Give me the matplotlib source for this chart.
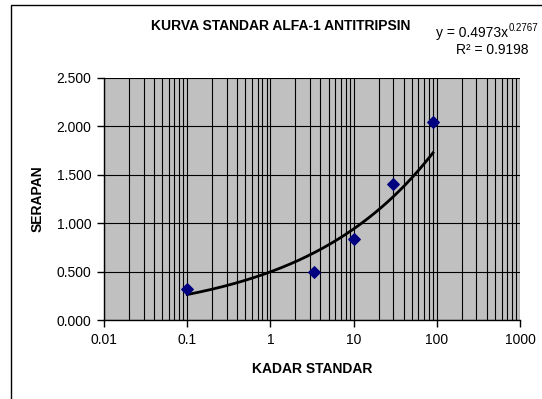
import numpy as np
import matplotlib
matplotlib.use("Agg")
import matplotlib.pyplot as plt
from matplotlib.patches import Rectangle
from matplotlib.ticker import LogLocator, FixedLocator, NullFormatter

plt.rcParams['font.family'] = ['Liberation Sans', 'DejaVu Sans']
plt.rcParams['mathtext.fontset'] = 'custom'
plt.rcParams['mathtext.rm'] = 'Liberation Sans'
plt.rcParams['mathtext.it'] = 'Liberation Sans'

# Standard concentrations and measured absorbance
kadar = [0.1, 3.3, 10, 30, 90]
serapan = [0.32, 0.50, 0.84, 1.40, 2.05]

# Power trendline y = a * x^b
coef_a = 0.4973
coef_b = 0.2767
r_squared = 0.9198

x_ticks = [0.01, 0.1, 1, 10, 100, 1000]
x_ticklabels = ["0.01", "0.1", "1", "10", "100", "1000"]
y_ticks = [0.0, 0.5, 1.0, 1.5, 2.0, 2.5]
y_ticklabels = ["0.000", "0.500", "1.000", "1.500", "2.000", "2.500"]

W, H = 542, 399
fig = plt.figure(figsize=(W / 100, H / 100), dpi=100)
fig.patch.set_facecolor("white")

# chart-area frame
fig.patches.append(Rectangle((11 / W, -0.05), 1.2, (H - 5) / H + 0.05,
                             transform=fig.transFigure, fill=False,
                             edgecolor="black", linewidth=1.0))

left, right, top, bottom = 104, 520, 78, 320
ax = fig.add_axes([left / W, 1 - bottom / H, (right - left) / W, (bottom - top) / H])
ax.set_facecolor("#C0C0C0")
ax.set_xscale("log")
ax.set_xlim(x_ticks[0], x_ticks[-1])
ax.set_ylim(y_ticks[0], y_ticks[-1])

ax.xaxis.set_major_locator(FixedLocator(x_ticks))
ax.set_xticklabels(x_ticklabels)
ax.xaxis.set_minor_locator(LogLocator(base=10, subs=np.arange(2, 10)))
ax.xaxis.set_minor_formatter(NullFormatter())
ax.set_yticks(y_ticks)
ax.set_yticklabels(y_ticklabels)

ax.grid(True, which="major", axis="both", color="black", linewidth=0.8)
ax.grid(True, which="minor", axis="x", color="black", linewidth=0.8)
ax.set_axisbelow(True)

for s in ("top", "right"):
    ax.spines[s].set_visible(False)
for s in ("left", "bottom"):
    ax.spines[s].set_linewidth(1.0)
ax.tick_params(which="major", direction="out", length=5, width=1.0,
               labelsize=10, pad=4)
ax.tick_params(which="minor", length=0)

# trendline
xs = np.logspace(np.log10(min(kadar)), np.log10(max(kadar)), 200)
ax.plot(xs, coef_a * xs ** coef_b, color="black", linewidth=2.0, zorder=3)

# data points
ax.scatter(kadar, serapan, marker="D", s=34, color="#000080", zorder=4,
           clip_on=False)

ax.set_xlabel("KADAR STANDAR", fontsize=10, fontweight="bold", labelpad=11)
ax.set_ylabel("SERAPAN", fontsize=10, fontweight="bold", labelpad=9)

fig.text(281 / W, 1 - 26 / H, "KURVA STANDAR ALFA-1 ANTITRIPSIN",
         ha="center", va="center", fontsize=10, fontweight="bold")

# trendline equation: main part plus a small raised exponent
eq = fig.text(436 / W, 1 - 33 / H, "y = %.4fx" % coef_a,
              ha="left", va="center", fontsize=10)
fig.canvas.draw()
bb = eq.get_window_extent()
fig.text((bb.x1 + 0.5) / W, 1 - 28 / H, "%.4f" % coef_b,
         ha="left", va="center", fontsize=7)
fig.text(529 / W, 1 - 50 / H, "R\u00b2 = %.4f" % r_squared,
         ha="right", va="center", fontsize=10)

fig.savefig("out.png", dpi=100, facecolor="white")
